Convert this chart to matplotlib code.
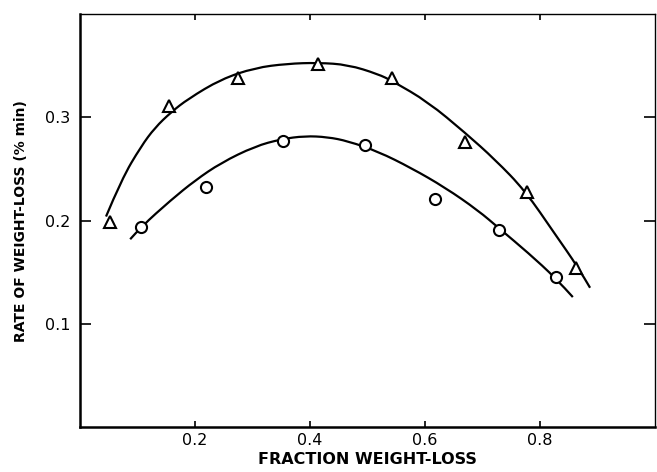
import matplotlib
matplotlib.use("Agg")
import matplotlib.pyplot as plt
from matplotlib.path import Path
from matplotlib.patches import PathPatch

# Measured points (open triangles, upper series)
TRI_X = [0.052, 0.155, 0.275, 0.414, 0.543, 0.669, 0.777, 0.863]
TRI_Y = [0.199, 0.311, 0.338, 0.352, 0.338, 0.276, 0.228, 0.154]

# Measured points (open circles, lower series)
CIR_X = [0.106, 0.219, 0.353, 0.496, 0.617, 0.729, 0.828]
CIR_Y = [0.194, 0.233, 0.277, 0.273, 0.221, 0.191, 0.145]

# Hand-drawn smooth curves
UP_X = [0.045, 0.072, 0.106, 0.130, 0.158, 0.188, 0.245, 0.304, 0.360, 0.414,
        0.466, 0.518, 0.544, 0.605, 0.670, 0.722, 0.774, 0.826, 0.866, 0.887]
UP_Y = [0.204, 0.240, 0.272, 0.290, 0.305, 0.318, 0.337, 0.348, 0.352, 0.353,
        0.351, 0.342, 0.335, 0.315, 0.285, 0.259, 0.229, 0.187, 0.155, 0.135]

LO_X = [0.087, 0.106, 0.158, 0.200, 0.245, 0.304, 0.350, 0.391, 0.430, 0.466,
        0.518, 0.576, 0.635, 0.692, 0.730, 0.779, 0.828, 0.857]
LO_Y = [0.182, 0.194, 0.220, 0.239, 0.256, 0.272, 0.279, 0.282, 0.281, 0.277,
        0.267, 0.251, 0.232, 0.210, 0.192, 0.169, 0.144, 0.126]

X_TICKS = [0.2, 0.4, 0.6, 0.8]
Y_TICKS = [0.1, 0.2, 0.3]


def smooth_curve(ax, xs, ys, **kw):
    # quadratic bezier through midpoints, so the hand-drawn line has no corners
    pts = list(zip(xs, ys))
    verts = [pts[0]]
    codes = [Path.MOVETO]
    for i in range(1, len(pts) - 1):
        mid = ((pts[i][0] + pts[i + 1][0]) / 2, (pts[i][1] + pts[i + 1][1]) / 2)
        if i == len(pts) - 2:
            mid = pts[-1]
        verts += [pts[i], mid]
        codes += [Path.CURVE3, Path.CURVE3]
    ax.add_patch(PathPatch(Path(verts, codes), facecolor="none", **kw))


fig = plt.figure(figsize=(6.57, 4.72), dpi=100)
ax = fig.add_axes([0.122, 0.095, 0.875, 0.875])

smooth_curve(ax, UP_X, UP_Y, edgecolor="black", linewidth=1.6)
smooth_curve(ax, LO_X, LO_Y, edgecolor="black", linewidth=1.6)

ax.plot(TRI_X, TRI_Y, linestyle="none", marker="^", markersize=9,
        markerfacecolor="white", markeredgecolor="black", markeredgewidth=1.5)
ax.plot(CIR_X, CIR_Y, linestyle="none", marker="o", markersize=8,
        markerfacecolor="white", markeredgecolor="black", markeredgewidth=1.5)

ax.set_xlim(0, 1.0)
ax.set_ylim(0, 0.4)
ax.set_xticks(X_TICKS)
ax.set_yticks(Y_TICKS)
ax.set_xticklabels([f"{t:.1f}" for t in X_TICKS], fontsize=11.5)
ax.set_yticklabels([f"{t:.1f}" for t in Y_TICKS], fontsize=11.5)

ax.tick_params(axis="x", direction="in", length=4, width=1.2, top=True, pad=4)
ax.tick_params(axis="y", direction="in", length=8, width=1.2, right=True, pad=7)

for side, spine in ax.spines.items():
    spine.set_linewidth(1.8 if side in ("left", "bottom") else 1.0)

ax.set_xlabel("FRACTION WEIGHT-LOSS", fontsize=11.5, fontweight="bold", labelpad=3)
ax.set_ylabel("RATE OF WEIGHT-LOSS (% min)", fontsize=10, fontweight="bold",
              labelpad=12)

fig.savefig("out.png", dpi=100)
